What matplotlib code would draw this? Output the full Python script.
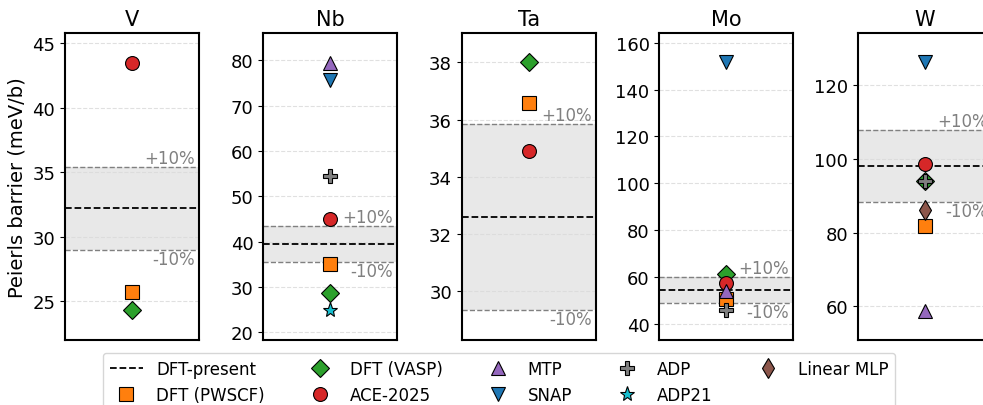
import matplotlib
matplotlib.use("Agg")
import matplotlib.pyplot as plt
from matplotlib.lines import Line2D
import numpy as np

elements = ["V", "Nb", "Ta", "Mo", "W"]
dft_present = [32.2, 39.5, 32.6, 54.6, 98.1]

# values per method for each element (None = not available)
dft_pwscf = [25.7, 35.1, 36.6, 50.5, 81.9]
dft_vasp = [24.3, 28.6, 38.0, 61.5, 94.1]
ace_2025 = [43.5, 44.9, 34.9, 57.7, 98.6]
mtp = [None, 79.4, None, 54.0, 58.8]
snap = [None, 75.6, None, 151.9, 126.2]
adp = [None, 54.4, None, 46.0, 94.1]
adp21 = [None, 24.9, None, None, None]
linear_mlp = [None, None, None, None, 86.0]

ylims = [(22.0, 45.8), (18.3, 86.0), (28.3, 39.03), (33.2, 164.1), (50.9, 134.1)]
yticks = [[25, 30, 35, 40, 45], [20, 30, 40, 50, 60, 70, 80], [30, 32, 34, 36, 38],
          [40, 60, 80, 100, 120, 140, 160], [60, 80, 100, 120]]

methods = [
    ("DFT (PWSCF)", dft_pwscf, "s", "#ff7f0e", 10),
    ("DFT (VASP)", dft_vasp, "D", "#2ca02c", 9),
    ("ACE-2025", ace_2025, "o", "#d62728", 10),
    ("MTP", mtp, "^", "#9467bd", 10),
    ("SNAP", snap, "v", "#1f77b4", 10),
    ("ADP", adp, "P", "#808080", 10),
    ("ADP21", adp21, "*", "#17becf", 11),
    ("Linear MLP", linear_mlp, "d", "#8c564b", 10),
]

W, H = 983, 406
fig = plt.figure(figsize=(W / 100, H / 100), dpi=100)
lefts = [65, 263.3, 461.7, 659.3, 857.7]
ax_w = 134
top, bot = 34, 341

for i, el in enumerate(elements):
    ax = fig.add_axes([lefts[i] / W, (H - bot) / H, ax_w / W, (bot - top) / H])
    ref = dft_present[i]
    lo, hi = ref * 0.9, ref * 1.1
    ax.axhspan(lo, hi, color="#e8e8e8", zorder=0, lw=0)
    ax.axhline(ref, color="black", ls="--", lw=1.3, zorder=1)
    ax.axhline(hi, color="gray", ls="--", lw=1.0, zorder=1)
    ax.axhline(lo, color="gray", ls="--", lw=1.0, zorder=1)
    ax.text(0.97, hi, "+10%", transform=ax.get_yaxis_transform(), ha="right", va="bottom",
            color="gray", fontsize=12)
    ax.text(0.97, lo, "-10%", transform=ax.get_yaxis_transform(), ha="right", va="top",
            color="gray", fontsize=12)
    for name, vals, mk, col, ms in methods:
        v = vals[i]
        if v is None:
            continue
        ax.plot([0], [v], marker=mk, color=col, markeredgecolor="black",
                markeredgewidth=0.8, markersize=ms, ls="none", zorder=3)
    ax.set_xlim(-1, 1)
    ax.set_ylim(*ylims[i])
    ax.set_yticks(yticks[i])
    ax.set_xticks([])
    ax.yaxis.grid(True, ls="--", color="#d9d9d9", lw=0.8, alpha=0.8, zorder=0)
    ax.set_axisbelow(True)
    ax.tick_params(axis="y", labelsize=13)
    for s in ax.spines.values():
        s.set_linewidth(1.5)
    ax.set_title(el, fontsize=15, pad=6)
    if i == 0:
        ax.set_ylabel("Peierls barrier (meV/b)", fontsize=14)

handles = [Line2D([], [], color="black", ls="--", lw=1.3, label="DFT-present")]
for name, vals, mk, col, ms in methods:
    handles.append(Line2D([], [], marker=mk, color=col, markeredgecolor="black",
                          markeredgewidth=0.8, markersize=ms, ls="none", label=name))

fig.legend(handles=handles, ncol=5, loc="upper left",
           bbox_to_anchor=(103 / W, (H - 354) / H), fontsize=12,
           frameon=True, handlelength=2.0, columnspacing=2.3, borderaxespad=0)

fig.savefig("out.png", dpi=100)
